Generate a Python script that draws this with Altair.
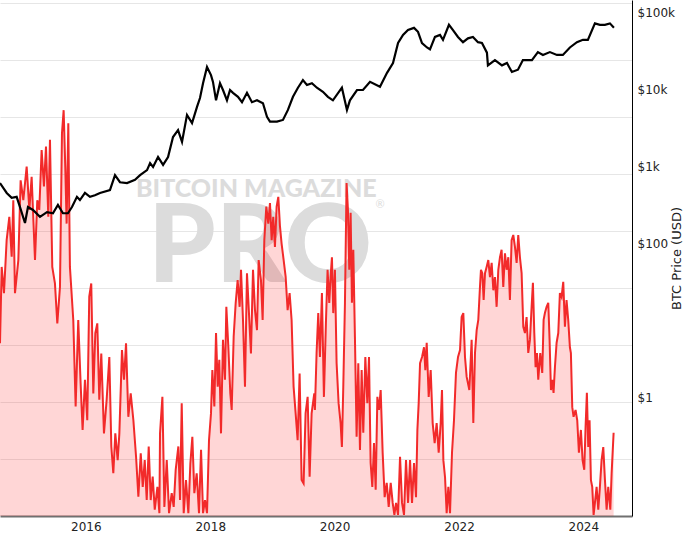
import altair as alt
import pandas as pd

# ---- red indicator series (decimal year, value) ----
red_t = [2014.620, 2014.647, 2014.684, 2014.727, 2014.770, 2014.808, 2014.834, 2014.861, 2014.915, 2014.952,
         2014.995, 2015.049, 2015.092, 2015.129, 2015.183, 2015.220, 2015.252, 2015.290, 2015.327, 2015.360,
         2015.397, 2015.424, 2015.461, 2015.504, 2015.542, 2015.585, 2015.617, 2015.644, 2015.670, 2015.692,
         2015.719, 2015.745, 2015.799, 2015.837, 2015.879, 2015.917, 2015.949, 2015.987, 2016.024, 2016.056,
         2016.088, 2016.121, 2016.153, 2016.185, 2016.217, 2016.249, 2016.292, 2016.335, 2016.378, 2016.410,
         2016.442, 2016.474, 2016.512, 2016.539, 2016.581, 2016.614, 2016.646, 2016.683, 2016.721, 2016.764,
         2016.807, 2016.844, 2016.882, 2016.914, 2016.946, 2016.978, 2017.010, 2017.042, 2017.074, 2017.107,
         2017.150, 2017.182,
         2017.192, 2017.230, 2017.262, 2017.300, 2017.337, 2017.380, 2017.412, 2017.444, 2017.487, 2017.514,
         2017.541, 2017.573, 2017.610, 2017.648, 2017.680, 2017.712, 2017.744, 2017.782, 2017.819, 2017.852,
         2017.884, 2017.916, 2017.948, 2017.980, 2018.012, 2018.034, 2018.066, 2018.093, 2018.120, 2018.146,
         2018.173, 2018.205, 2018.237, 2018.259, 2018.291, 2018.323, 2018.345, 2018.377, 2018.409, 2018.441,
         2018.473, 2018.495, 2018.527, 2018.559, 2018.591, 2018.623, 2018.655, 2018.688, 2018.720, 2018.752,
         2018.779, 2018.816, 2018.843, 2018.870, 2018.902, 2018.934, 2018.961, 2018.988, 2019.014, 2019.041,
         2019.068, 2019.095, 2019.122, 2019.148, 2019.181, 2019.213, 2019.245, 2019.277, 2019.309, 2019.341,
         2019.374, 2019.406, 2019.438, 2019.470, 2019.502, 2019.534, 2019.567, 2019.599, 2019.631, 2019.674,
         2019.684, 2019.711, 2019.738, 2019.765, 2019.797, 2019.829, 2019.861, 2019.888, 2019.915, 2019.936,
         2019.958, 2019.979, 2020.006, 2020.033, 2020.065, 2020.097, 2020.118, 2020.140, 2020.167, 2020.193,
         2020.215, 2020.236, 2020.258, 2020.279, 2020.301, 2020.327, 2020.354, 2020.381, 2020.408, 2020.435,
         2020.461, 2020.494, 2020.526, 2020.553, 2020.579, 2020.606, 2020.633, 2020.660, 2020.687, 2020.713,
         2020.740, 2020.772, 2020.804, 2020.837, 2020.869, 2020.901, 2020.933, 2020.960, 2020.987, 2021.019,
         2021.051, 2021.083, 2021.115, 2021.147, 2021.180, 2021.212, 2021.244, 2021.276, 2021.308, 2021.330,
         2021.351, 2021.373, 2021.405, 2021.437, 2021.458, 2021.480, 2021.512, 2021.544, 2021.576, 2021.608,
         2021.640, 2021.673, 2021.705, 2021.726, 2021.748, 2021.775, 2021.801, 2021.828, 2021.855, 2021.887,
         2021.919, 2021.951, 2021.984, 2022.016, 2022.042, 2022.069, 2022.096, 2022.123, 2022.166,
         2022.203, 2022.230, 2022.257, 2022.284, 2022.310, 2022.337, 2022.353, 2022.375, 2022.396, 2022.418,
         2022.444, 2022.471, 2022.498, 2022.525, 2022.552, 2022.578, 2022.605, 2022.632, 2022.659, 2022.685,
         2022.712, 2022.739, 2022.766, 2022.793, 2022.819, 2022.846, 2022.873, 2022.900, 2022.927, 2022.953,
         2022.980, 2023.007, 2023.034, 2023.061, 2023.087, 2023.114, 2023.141, 2023.168, 2023.189, 2023.211,
         2023.232, 2023.254, 2023.275, 2023.307, 2023.339, 2023.361, 2023.382, 2023.409, 2023.436, 2023.457,
         2023.479, 2023.500, 2023.521, 2023.543, 2023.570, 2023.597, 2023.623, 2023.650, 2023.677, 2023.704,
         2023.730, 2023.757, 2023.784, 2023.800, 2023.822, 2023.843, 2023.875, 2023.902, 2023.929, 2023.961,
         2023.988, 2024.015, 2024.036, 2024.057, 2024.079, 2024.100, 2024.122, 2024.143, 2024.165, 2024.186,
         2024.213, 2024.240, 2024.266, 2024.293, 2024.320, 2024.347, 2024.374, 2024.400, 2024.433, 2024.454,
         2024.486]

red_v = [3.03, 4.37, 3.91, 4.84, 5.25, 4.55, 5.54, 3.91, 4.49, 5.89,
         5.54, 6.13, 5.37, 5.95, 4.49, 5.54, 5.37, 6.42, 5.78, 6.48,
         5.25, 6.60, 4.37, 4.08, 3.38, 4.02, 6.71, 7.12, 6.13, 5.13,
         6.89, 4.37, 3.44, 1.92, 3.44, 2.33, 1.51, 2.39, 1.68, 3.85,
         4.08, 2.15, 3.21, 3.38, 2.04, 2.85, 1.45, 2.04, 2.79, 1.22,
         0.75, 1.45, 0.98, 1.45, 2.91, 2.39, 3.03, 1.74, 2.15, 1.68,
         1.04, 0.34, 1.10, 0.51, 0.98, 0.28, 1.22, 0.28, 0.69, 0.11,
         0.51, 0.05,
         1.45, 2.09, 0.16, 0.98, 0.05, 0.40, 0.16, 0.81, 1.22, 0.28,
         1.98, 0.05, 0.63, 0.05, 0.92, 1.39, 0.40, 0.75, 0.05, 1.16,
         0.05, 0.28, 0.05, 1.33, 1.80, 2.56, 1.92, 3.21, 2.27, 2.74,
         1.45, 3.09, 2.39, 3.67, 2.97, 2.15, 1.86, 3.15, 3.73, 4.14,
         3.67, 4.32, 3.44, 2.27, 4.26, 3.56, 2.85, 4.32, 3.61, 3.26,
         4.49, 4.14, 3.44, 4.84, 5.43, 5.13, 5.49, 4.84, 5.25, 4.72,
         5.43, 5.60, 5.08, 4.78, 4.49, 4.20, 3.61, 3.91, 3.44, 2.27,
         1.80, 1.33, 2.50, 0.63, 0.57, 1.80, 2.09, 0.69, 1.80, 2.15,
         1.86, 2.86, 3.56, 2.79, 3.91, 2.09, 3.39, 4.32, 3.74, 4.19,
         4.54, 3.56, 4.32, 2.68, 1.98, 1.63, 1.21, 2.26, 3.74, 5.84,
         5.37, 4.32, 5.32, 3.74, 4.67, 3.14, 1.39, 2.68, 1.16, 2.56,
         1.46, 2.79, 1.98, 2.79, 0.93, 0.51, 1.28, 0.46, 2.09, 1.86,
         2.21, 1.11, 0.33, 0.58, 0.16, 0.58, 0.23, 0.02, 0.23, 0.02,
         1.04, 0.23, 0.02, 0.98, 0.23, 0.98, 0.23, 0.93, 0.33, 1.51,
         1.98, 2.68, 2.79, 2.96, 2.56, 3.04, 2.09, 2.56, 1.63, 1.28,
         1.63, 1.11, 1.63, 2.21, 0.98, 0.68, 0.05, 0.51, 0.05, 1.11,
         1.68, 2.51, 2.79, 2.91, 3.49, 3.56, 2.79, 2.44, 2.21,
         3.09, 1.63, 2.86, 3.26, 3.44, 4.02, 4.32, 4.26, 3.79, 4.26,
         4.37, 4.49, 4.19, 4.44, 3.96, 4.19, 3.67, 4.32, 4.54, 4.67,
         4.02, 4.61, 4.32, 4.54, 3.79, 4.84, 4.93, 4.72, 4.44, 4.93,
         4.54, 4.26, 3.32, 3.21, 3.49, 2.86, 3.09, 3.67, 4.09, 3.21,
         2.61, 2.86, 2.39, 2.86, 2.51, 3.44, 3.56, 3.67, 3.74, 3.09,
         2.21, 2.39, 2.16, 2.61, 3.04, 3.21, 3.91, 3.84, 4.11, 3.32,
         3.79, 3.44, 2.96, 2.86, 1.91, 1.74, 1.86, 1.68, 1.11, 1.51,
         0.98, 0.81, 1.56, 2.16, 1.21, 1.68, 0.63, 0.51, 0.02, 0.23,
         0.51, 0.11, 0.51, 0.98, 1.21, 0.63, 0.11, 0.51, 0.11, 0.75,
         1.46]

# ---- BTC price (decimal year, USD) ----
price_t = [2014.620, 2014.728, 2014.808, 2014.888, 2014.942, 2015.022, 2015.070, 2015.151, 2015.263, 2015.376,
           2015.472, 2015.552, 2015.633, 2015.713, 2015.778, 2015.858, 2015.906, 2015.987, 2016.067, 2016.147,
           2016.228, 2016.388, 2016.469, 2016.549, 2016.662, 2016.790, 2016.871, 2016.983, 2017.032, 2017.080,
           2017.160, 2017.241, 2017.321, 2017.401, 2017.482, 2017.546, 2017.626, 2017.707, 2017.787, 2017.835,
           2017.884, 2017.948, 2018.012, 2018.044, 2018.093, 2018.157, 2018.205, 2018.269, 2018.318, 2018.366,
           2018.446, 2018.511, 2018.591, 2018.671, 2018.752, 2018.848, 2018.913, 2018.961, 2019.073, 2019.170,
           2019.250, 2019.331, 2019.411, 2019.491, 2019.556, 2019.636, 2019.716, 2019.813, 2019.893, 2019.974,
           2020.118, 2020.199, 2020.247, 2020.360, 2020.456, 2020.569, 2020.729, 2020.842, 2020.938, 2021.019,
           2021.099, 2021.179, 2021.276, 2021.340, 2021.404, 2021.485, 2021.533, 2021.613, 2021.694, 2021.742,
           2021.838, 2021.903, 2021.983, 2022.064, 2022.144, 2022.224, 2022.305, 2022.369, 2022.449, 2022.465,
           2022.578, 2022.691, 2022.771, 2022.851, 2022.948, 2023.028, 2023.173, 2023.269, 2023.350, 2023.462,
           2023.575, 2023.671, 2023.784, 2023.897, 2023.993, 2024.073, 2024.186, 2024.266, 2024.346, 2024.427,
           2024.491]

price_v = [605, 450, 388, 400, 295, 183, 295, 270, 220, 253,
           245, 314, 245, 245, 295, 400, 363, 450, 400, 420,
           450, 490, 765, 620, 605, 665, 765, 890, 1100, 980,
           1320, 1040, 1320, 2400, 2950, 2070, 4650, 3650, 5900, 7700,
           12000, 19500, 15300, 12500, 7200, 12000, 9800, 7200, 9800, 9000,
           8000, 6800, 9000, 6800, 7200, 6600, 4400, 3800, 3800, 4000,
           5400, 8000, 10500, 13200, 11400, 12000, 10500, 9300, 8000, 7200,
           10500, 5400, 7200, 9800, 9800, 12500, 10800, 16400, 22000, 40000,
           51000, 59000, 63000, 56000, 40000, 35000, 33000, 48000, 51000, 44000,
           69000, 59000, 48000, 41000, 46000, 48000, 41000, 40000, 30000, 20500,
           24000, 20500, 22000, 16800, 18000, 24000, 24000, 30500, 28000, 30500,
           28000, 28000, 35000, 41000, 44000, 44000, 72000, 69000, 69000, 72000,
           63000]

year_ticks = [2016, 2018, 2020, 2022, 2024]
price_ticks = [1, 100, 1000, 10000, 100000]
red_grid = [1, 2, 3, 4, 5, 6, 7, 8, 9]


def to_date(t):
    y = int(t)
    start = pd.Timestamp(year=y, month=1, day=1)
    ndays = 366 if (y % 4 == 0) else 365
    return start + pd.Timedelta(days=(t - y) * ndays)


red_df = pd.DataFrame({"date": [to_date(t) for t in red_t], "value": red_v})
price_df = pd.DataFrame({"date": [to_date(t) for t in price_t], "price": price_v})

x_domain = [to_date(2014.62).isoformat(), to_date(2024.781).isoformat()]
xscale = alt.Scale(domain=x_domain)
x_axis = alt.Axis(
    values=[alt.DateTime(year=y, month=1, date=1) for y in year_ticks],
    format="%Y", ticks=False, grid=False, labelFontSize=12, labelColor="#222222",
    labelPadding=5, domainColor="#707070", domainWidth=2, title=None,
)

red_scale = alt.Scale(domain=[0, 9.053], nice=False, zero=False)
red_axis = alt.Axis(orient="left", values=red_grid, labels=False, ticks=False, domain=False,
                    grid=True, gridColor="#e6e6e6", gridWidth=1, title=None)

watermark = alt.Chart(pd.DataFrame({"a": [0]})).mark_text(
    text="BITCOIN MAGAZINE", font="Lato", fontWeight=900, fontSize=25, color="#dcdcdc",
    align="left", baseline="alphabetic",
).encode(x=alt.value(136), y=alt.value(197))

watermark_pro = alt.Chart(pd.DataFrame({"a": [0]})).mark_text(
    text="PRO", font="Lato", fontWeight=900, fontSize=108, color="#dcdcdc",
    align="left", baseline="alphabetic",
).encode(x=alt.value(148), y=alt.value(282))

watermark_r = alt.Chart(pd.DataFrame({"a": [0]})).mark_text(
    text="®", font="Lato", fontSize=11, color="#dcdcdc", align="center", baseline="middle",
).encode(x=alt.value(380), y=alt.value(205))

red_area = alt.Chart(red_df).mark_area(color="#ff0000", opacity=0.16, interpolate="linear").encode(
    x=alt.X("date:T", scale=xscale, axis=x_axis),
    y=alt.Y("value:Q", scale=red_scale, axis=red_axis),
)
red_line = alt.Chart(red_df).mark_line(color="#f22a2a", strokeWidth=2).encode(
    x=alt.X("date:T", scale=xscale),
    y=alt.Y("value:Q", scale=red_scale),
)

price_line = alt.Chart(price_df).mark_line(color="#000000", strokeWidth=2.2).encode(
    x=alt.X("date:T", scale=xscale),
    y=alt.Y("price:Q", scale=alt.Scale(type="log", domain=[0.0284, 145000], nice=False),
            axis=alt.Axis(orient="right", values=price_ticks,
                          labelExpr="datum.value >= 1000 ? '$' + (datum.value/1000) + 'k' : '$' + datum.value",
                          grid=False, ticks=False, domainColor="#000000", domainWidth=1,
                          labelFontSize=12, labelColor="#222222", labelPadding=5,
                          title="BTC Price (USD)", titleFontSize=13, titleFontWeight="normal",
                          titleColor="#222222", titleAngle=270, titlePadding=9)),
)

chart = alt.layer(
    watermark, watermark_pro, watermark_r,
    alt.layer(red_area, red_line),
    price_line,
).resolve_scale(y="independent").properties(
    width=632, height=516,
    padding={"left": 0, "top": 0, "right": 64, "bottom": 24},
    autosize=alt.AutoSizeParams(type="none"),
).configure_view(stroke=None).configure_axis(
    labelFont="DejaVu Sans", titleFont="DejaVu Sans"
)

chart.save("out.html", embed_options={"renderer": "svg", "actions": False})
